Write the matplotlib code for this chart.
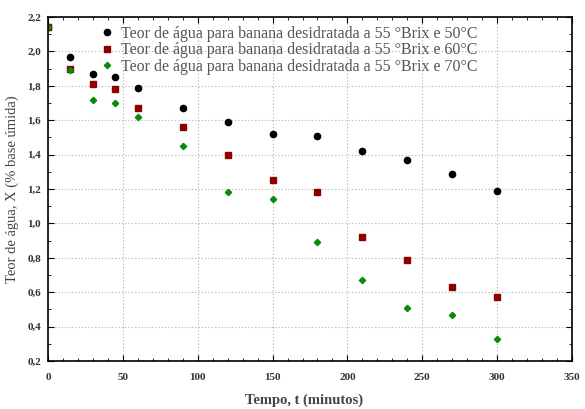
import matplotlib

matplotlib.use("Agg")
import matplotlib.pyplot as plt
from matplotlib.ticker import FuncFormatter, MultipleLocator

plt.rcParams["font.family"] = ["Liberation Serif", "DejaVu Serif"]

# Tempo de secagem (min) e teor de água (base úmida) para cada temperatura
tempo = [0, 15, 30, 45, 60, 90, 120, 150, 180, 210, 240, 270, 300]
x_50C = [2.14, 1.97, 1.87, 1.85, 1.79, 1.67, 1.59, 1.52, 1.51, 1.42, 1.37, 1.29, 1.19]
x_60C = [2.14, 1.90, 1.81, 1.78, 1.67, 1.56, 1.40, 1.25, 1.18, 0.92, 0.79, 0.63, 0.57]
x_70C = [2.14, 1.89, 1.72, 1.70, 1.62, 1.45, 1.18, 1.14, 0.89, 0.67, 0.51, 0.47, 0.33]

labels = [
    "Teor de água para banana desidratada a 55 °Brix e 50°C",
    "Teor de água para banana desidratada a 55 °Brix e 60°C",
    "Teor de água para banana desidratada a 55 °Brix e 70°C",
]

fig = plt.figure(figsize=(5.85, 4.09), dpi=100)
ax = fig.add_axes([48 / 585, 48 / 409, 524 / 585, 344 / 409])

ax.plot(tempo, x_50C, "o", color="black", markersize=4.5, label=labels[0])
ax.plot(tempo, x_60C, "s", color="#8b0000", markersize=4.5, label=labels[1])
ax.plot(tempo, x_70C, "D", color="#0a8a0a", markersize=3.2, label=labels[2])

ax.set_xlim(0, 350)
ax.set_ylim(0.2, 2.2)
ax.xaxis.set_major_locator(MultipleLocator(50))
ax.xaxis.set_minor_locator(MultipleLocator(10))
ax.yaxis.set_major_locator(MultipleLocator(0.2))
ax.yaxis.set_minor_locator(MultipleLocator(0.1))
ax.yaxis.set_major_formatter(FuncFormatter(lambda v, _: f"{v:.1f}".replace(".", ",")))

ax.grid(True, which="major", linestyle=(0, (1, 2)), color="#b0b0b0", linewidth=0.8)
ax.tick_params(which="both", direction="in", top=True, right=True,
               labelsize=8, colors="black")
ax.tick_params(which="major", length=4)
ax.tick_params(which="minor", length=2)
ax.tick_params(axis="x", pad=9)
ax.tick_params(axis="y", pad=5)
for lbl in ax.get_xticklabels() + ax.get_yticklabels():
    lbl.set_fontweight("bold")
    lbl.set_color("#333333")
for spine in ax.spines.values():
    spine.set_linewidth(1.2)

ax.set_xlabel("Tempo, t (minutos)", fontsize=10.5, color="#444444",
              fontweight="bold")
ax.xaxis.set_label_coords(0.488, -0.095)
ax.set_ylabel("Teor de água, X (% base úmida)", fontsize=10.5, color="#444444",
              labelpad=6)

leg = ax.legend(loc="upper left", bbox_to_anchor=(0.084, 0.993), frameon=False,
                fontsize=11.5, handletextpad=0.3, labelspacing=0.03,
                handlelength=1.1, borderaxespad=0)
for txt in leg.get_texts():
    txt.set_color("#555555")

fig.savefig("out.png", dpi=100)
